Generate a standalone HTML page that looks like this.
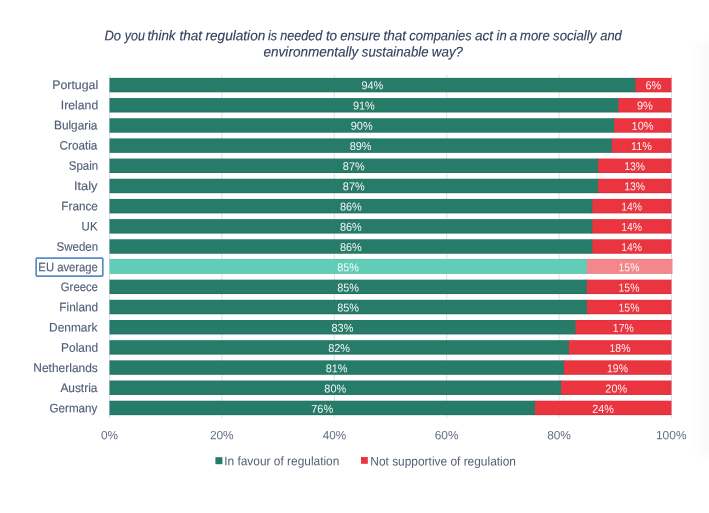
<!DOCTYPE html>
<html lang="en"><head><meta charset="utf-8"><title>Regulation survey chart</title>
<style>
html,body{margin:0;padding:0;background:#fff;}
body{width:709px;height:513px;overflow:hidden;}
svg{display:block;font-family:"Liberation Sans",sans-serif;text-rendering:geometricPrecision;}
.t{font-size:14px;font-style:italic;fill:#35425e;stroke:#35425e;stroke-width:0.15px;}
.c{font-size:12.2px;fill:#535e78;stroke:#535e78;stroke-width:0.15px;}
.a{font-size:12px;fill:#626d87;}
.l{font-size:12.5px;fill:#535e78;}
.v{font-size:11.4px;fill:#fff;fill-opacity:0.93;}
</style></head><body>
<svg width="709" height="513" viewBox="0 0 709 513">
<rect x="0" y="0" width="709" height="513" fill="#ffffff"/>
<defs><linearGradient id="sh" x1="0" y1="0" x2="1" y2="0"><stop offset="0" stop-color="#ffffff"/><stop offset="0.3" stop-color="#fdfdfd"/><stop offset="0.7" stop-color="#f9f9f9"/><stop offset="1" stop-color="#f8f8f8"/></linearGradient><filter id="bl" x="-20%" y="-5%" width="140%" height="110%"><feGaussianBlur stdDeviation="2 4"/></filter></defs>
<rect x="688" y="42" width="31" height="414" fill="url(#sh)" filter="url(#bl)"/>
<rect x="109" y="75" width="1" height="343" fill="#d9e0ee"/>
<rect x="221.4" y="75" width="1" height="343" fill="#d9e0ee"/>
<rect x="333.8" y="75" width="1" height="343" fill="#d9e0ee"/>
<rect x="446.2" y="75" width="1" height="343" fill="#d9e0ee"/>
<rect x="558.6" y="75" width="1" height="343" fill="#d9e0ee"/>
<rect x="671" y="75" width="1" height="343" fill="#d9e0ee"/>
<rect x="634.4" y="77.88" width="37.1" height="14.41" fill="#ea3440"/>
<rect x="109.5" y="77.88" width="525.9" height="14.41" fill="#277b69"/>
<rect x="109.5" y="91.49" width="562" height="0.8" fill="#000" fill-opacity="0.1"/>
<rect x="109.5" y="77.88" width="562" height="0.6" fill="#000" fill-opacity="0.05"/>
<rect x="617.4" y="98.06" width="54.1" height="14.41" fill="#ea3440"/>
<rect x="109.5" y="98.06" width="508.9" height="14.41" fill="#277b69"/>
<rect x="109.5" y="111.67" width="562" height="0.8" fill="#000" fill-opacity="0.1"/>
<rect x="109.5" y="98.06" width="562" height="0.6" fill="#000" fill-opacity="0.05"/>
<rect x="613.1" y="118.24" width="58.4" height="14.41" fill="#ea3440"/>
<rect x="109.5" y="118.24" width="504.6" height="14.41" fill="#277b69"/>
<rect x="109.5" y="131.85" width="562" height="0.8" fill="#000" fill-opacity="0.1"/>
<rect x="109.5" y="118.24" width="562" height="0.6" fill="#000" fill-opacity="0.05"/>
<rect x="610.8" y="138.41" width="60.7" height="14.41" fill="#ea3440"/>
<rect x="109.5" y="138.41" width="502.3" height="14.41" fill="#277b69"/>
<rect x="109.5" y="152.02" width="562" height="0.8" fill="#000" fill-opacity="0.1"/>
<rect x="109.5" y="138.41" width="562" height="0.6" fill="#000" fill-opacity="0.05"/>
<rect x="597.1" y="158.59" width="74.4" height="14.41" fill="#ea3440"/>
<rect x="109.5" y="158.59" width="488.6" height="14.41" fill="#277b69"/>
<rect x="109.5" y="172.2" width="562" height="0.8" fill="#000" fill-opacity="0.1"/>
<rect x="109.5" y="158.59" width="562" height="0.6" fill="#000" fill-opacity="0.05"/>
<rect x="597.1" y="178.76" width="74.4" height="14.41" fill="#ea3440"/>
<rect x="109.5" y="178.76" width="488.6" height="14.41" fill="#277b69"/>
<rect x="109.5" y="192.38" width="562" height="0.8" fill="#000" fill-opacity="0.1"/>
<rect x="109.5" y="178.76" width="562" height="0.6" fill="#000" fill-opacity="0.05"/>
<rect x="591.3" y="198.94" width="80.2" height="14.41" fill="#ea3440"/>
<rect x="109.5" y="198.94" width="482.8" height="14.41" fill="#277b69"/>
<rect x="109.5" y="212.55" width="562" height="0.8" fill="#000" fill-opacity="0.1"/>
<rect x="109.5" y="198.94" width="562" height="0.6" fill="#000" fill-opacity="0.05"/>
<rect x="591.3" y="219.12" width="80.2" height="14.41" fill="#ea3440"/>
<rect x="109.5" y="219.12" width="482.8" height="14.41" fill="#277b69"/>
<rect x="109.5" y="232.73" width="562" height="0.8" fill="#000" fill-opacity="0.1"/>
<rect x="109.5" y="219.12" width="562" height="0.6" fill="#000" fill-opacity="0.05"/>
<rect x="591.3" y="239.29" width="80.2" height="14.41" fill="#ea3440"/>
<rect x="109.5" y="239.29" width="482.8" height="14.41" fill="#277b69"/>
<rect x="109.5" y="252.91" width="562" height="0.8" fill="#000" fill-opacity="0.1"/>
<rect x="109.5" y="239.29" width="562" height="0.6" fill="#000" fill-opacity="0.05"/>
<rect x="585.9" y="258.97" width="86.6" height="14.81" fill="#f4878b"/>
<rect x="109.5" y="258.97" width="477.4" height="14.81" fill="#62cdb6"/>
<rect x="109.5" y="272.98" width="563" height="0.8" fill="#000" fill-opacity="0.1"/>
<rect x="109.5" y="258.97" width="563" height="0.6" fill="#000" fill-opacity="0.05"/>
<rect x="585.9" y="279.65" width="85.6" height="14.41" fill="#ea3440"/>
<rect x="109.5" y="279.65" width="477.4" height="14.41" fill="#277b69"/>
<rect x="109.5" y="293.26" width="562" height="0.8" fill="#000" fill-opacity="0.1"/>
<rect x="109.5" y="279.65" width="562" height="0.6" fill="#000" fill-opacity="0.05"/>
<rect x="585.9" y="299.82" width="85.6" height="14.41" fill="#ea3440"/>
<rect x="109.5" y="299.82" width="477.4" height="14.41" fill="#277b69"/>
<rect x="109.5" y="313.44" width="562" height="0.8" fill="#000" fill-opacity="0.1"/>
<rect x="109.5" y="299.82" width="562" height="0.6" fill="#000" fill-opacity="0.05"/>
<rect x="574.5" y="320" width="97" height="14.41" fill="#ea3440"/>
<rect x="109.5" y="320" width="466" height="14.41" fill="#277b69"/>
<rect x="109.5" y="333.61" width="562" height="0.8" fill="#000" fill-opacity="0.1"/>
<rect x="109.5" y="320" width="562" height="0.6" fill="#000" fill-opacity="0.05"/>
<rect x="567.9" y="340.18" width="103.6" height="14.41" fill="#ea3440"/>
<rect x="109.5" y="340.18" width="459.4" height="14.41" fill="#277b69"/>
<rect x="109.5" y="353.79" width="562" height="0.8" fill="#000" fill-opacity="0.1"/>
<rect x="109.5" y="340.18" width="562" height="0.6" fill="#000" fill-opacity="0.05"/>
<rect x="562.9" y="360.35" width="108.6" height="14.41" fill="#ea3440"/>
<rect x="109.5" y="360.35" width="454.4" height="14.41" fill="#277b69"/>
<rect x="109.5" y="373.96" width="562" height="0.8" fill="#000" fill-opacity="0.1"/>
<rect x="109.5" y="360.35" width="562" height="0.6" fill="#000" fill-opacity="0.05"/>
<rect x="560.1" y="380.53" width="111.4" height="14.41" fill="#ea3440"/>
<rect x="109.5" y="380.53" width="451.6" height="14.41" fill="#277b69"/>
<rect x="109.5" y="394.14" width="562" height="0.8" fill="#000" fill-opacity="0.1"/>
<rect x="109.5" y="380.53" width="562" height="0.6" fill="#000" fill-opacity="0.05"/>
<rect x="534" y="400.71" width="137.5" height="14.41" fill="#ea3440"/>
<rect x="109.5" y="400.71" width="425.5" height="14.41" fill="#277b69"/>
<rect x="109.5" y="414.32" width="562" height="0.8" fill="#000" fill-opacity="0.1"/>
<rect x="109.5" y="400.71" width="562" height="0.6" fill="#000" fill-opacity="0.05"/>
<rect x="36.15" y="258.05" width="66.65" height="18.1" rx="0.8" fill="none" stroke="#5a8dc6" stroke-width="1.7"/>
<rect x="215.4" y="457.2" width="7" height="7" fill="#277b69"/>
<rect x="361" y="457" width="6.8" height="6.8" fill="#ea3440"/>
<text class="t" x="104.4" y="40.2" textLength="16.61" lengthAdjust="spacingAndGlyphs" transform="rotate(0.04 104.4 40.2)">Do</text>
<text class="t" x="124.71" y="40.2" textLength="20.14" lengthAdjust="spacingAndGlyphs" transform="rotate(0.04 124.71 40.2)">you</text>
<text class="t" x="147.4" y="40.2" textLength="28.15" lengthAdjust="spacingAndGlyphs" transform="rotate(0.04 147.4 40.2)">think</text>
<text class="t" x="179.48" y="40.2" textLength="22.65" lengthAdjust="spacingAndGlyphs" transform="rotate(0.04 179.48 40.2)">that</text>
<text class="t" x="205.47" y="40.2" textLength="59.84" lengthAdjust="spacingAndGlyphs" transform="rotate(0.04 205.47 40.2)">regulation</text>
<text class="t" x="267.9" y="40.2" textLength="9.16" lengthAdjust="spacingAndGlyphs" transform="rotate(0.04 267.9 40.2)">is</text>
<text class="t" x="280.19" y="40.2" textLength="41.98" lengthAdjust="spacingAndGlyphs" transform="rotate(0.04 280.19 40.2)">needed</text>
<text class="t" x="325.89" y="40.2" textLength="11.24" lengthAdjust="spacingAndGlyphs" transform="rotate(0.04 325.89 40.2)">to</text>
<text class="t" x="340.16" y="40.2" textLength="40.23" lengthAdjust="spacingAndGlyphs" transform="rotate(0.04 340.16 40.2)">ensure</text>
<text class="t" x="383.48" y="40.2" textLength="22.65" lengthAdjust="spacingAndGlyphs" transform="rotate(0.04 383.48 40.2)">that</text>
<text class="t" x="409.28" y="40.2" textLength="62.49" lengthAdjust="spacingAndGlyphs" transform="rotate(0.04 409.28 40.2)">companies</text>
<text class="t" x="474.99" y="40.2" textLength="18.13" lengthAdjust="spacingAndGlyphs" transform="rotate(0.04 474.99 40.2)">act</text>
<text class="t" x="496.49" y="40.2" textLength="10.21" lengthAdjust="spacingAndGlyphs" transform="rotate(0.04 496.49 40.2)">in</text>
<text class="t" x="509.59" y="40.2" textLength="7.79" lengthAdjust="spacingAndGlyphs" transform="rotate(0.04 509.59 40.2)">a</text>
<text class="t" x="520.08" y="40.2" textLength="29.6" lengthAdjust="spacingAndGlyphs" transform="rotate(0.04 520.08 40.2)">more</text>
<text class="t" x="553.07" y="40.2" textLength="43.27" lengthAdjust="spacingAndGlyphs" transform="rotate(0.04 553.07 40.2)">socially</text>
<text class="t" x="600.21" y="40.2" textLength="21.55" lengthAdjust="spacingAndGlyphs" transform="rotate(0.04 600.21 40.2)">and</text>
<text class="t" x="263.54" y="56.4" textLength="94.88" lengthAdjust="spacingAndGlyphs" transform="rotate(0.04 263.54 56.4)">environmentally</text>
<text class="t" x="361.87" y="56.4" textLength="66.62" lengthAdjust="spacingAndGlyphs" transform="rotate(0.04 361.87 56.4)">sustainable</text>
<text class="t" x="431.83" y="56.4" textLength="31.2" lengthAdjust="spacingAndGlyphs" transform="rotate(0.04 431.83 56.4)">way?</text>
<text class="c" x="52.19" y="88.95" textLength="46.04" lengthAdjust="spacingAndGlyphs" transform="rotate(0.04 52.19 88.95)">Portugal</text>
<text class="v" x="361.44" y="89.3" textLength="21.9" lengthAdjust="spacingAndGlyphs" transform="rotate(0.04 361.44 89.3)">94%</text>
<text class="v" x="645.39" y="89.3" textLength="15.95" lengthAdjust="spacingAndGlyphs" transform="rotate(0.04 645.39 89.3)">6%</text>
<text class="c" x="60.87" y="109.16" textLength="37.31" lengthAdjust="spacingAndGlyphs" transform="rotate(0.04 60.87 109.16)">Ireland</text>
<text class="v" x="352.94" y="109.51" textLength="21.9" lengthAdjust="spacingAndGlyphs" transform="rotate(0.04 352.94 109.51)">91%</text>
<text class="v" x="636.93" y="109.51" textLength="15.91" lengthAdjust="spacingAndGlyphs" transform="rotate(0.04 636.93 109.51)">9%</text>
<text class="c" x="54.03" y="129.37" textLength="43.37" lengthAdjust="spacingAndGlyphs" transform="rotate(0.04 54.03 129.37)">Bulgaria</text>
<text class="v" x="350.79" y="129.72" textLength="21.9" lengthAdjust="spacingAndGlyphs" transform="rotate(0.04 350.79 129.72)">90%</text>
<text class="v" x="631.56" y="129.72" textLength="22.03" lengthAdjust="spacingAndGlyphs" transform="rotate(0.04 631.56 129.72)">10%</text>
<text class="c" x="59.6" y="149.58" textLength="37.8" lengthAdjust="spacingAndGlyphs" transform="rotate(0.04 59.6 149.58)">Croatia</text>
<text class="v" x="349.68" y="149.93" textLength="21.86" lengthAdjust="spacingAndGlyphs" transform="rotate(0.04 349.68 149.93)">89%</text>
<text class="v" x="630.97" y="149.93" textLength="20.91" lengthAdjust="spacingAndGlyphs" transform="rotate(0.04 630.97 149.93)">11%</text>
<text class="c" x="68.78" y="169.79" textLength="29.37" lengthAdjust="spacingAndGlyphs" transform="rotate(0.04 68.78 169.79)">Spain</text>
<text class="v" x="342.83" y="170.14" textLength="21.86" lengthAdjust="spacingAndGlyphs" transform="rotate(0.04 342.83 170.14)">87%</text>
<text class="v" x="624.16" y="170.14" textLength="20.87" lengthAdjust="spacingAndGlyphs" transform="rotate(0.04 624.16 170.14)">13%</text>
<text class="c" x="73.92" y="190" textLength="23.51" lengthAdjust="spacingAndGlyphs" transform="rotate(0.04 73.92 190)">Italy</text>
<text class="v" x="342.83" y="190.35" textLength="21.86" lengthAdjust="spacingAndGlyphs" transform="rotate(0.04 342.83 190.35)">87%</text>
<text class="v" x="624.16" y="190.35" textLength="20.87" lengthAdjust="spacingAndGlyphs" transform="rotate(0.04 624.16 190.35)">13%</text>
<text class="c" x="61.33" y="210.21" textLength="36.59" lengthAdjust="spacingAndGlyphs" transform="rotate(0.04 61.33 210.21)">France</text>
<text class="v" x="339.93" y="210.56" textLength="21.86" lengthAdjust="spacingAndGlyphs" transform="rotate(0.04 339.93 210.56)">86%</text>
<text class="v" x="621.26" y="210.56" textLength="20.87" lengthAdjust="spacingAndGlyphs" transform="rotate(0.04 621.26 210.56)">14%</text>
<text class="c" x="81.62" y="230.42" textLength="15.91" lengthAdjust="spacingAndGlyphs" transform="rotate(0.04 81.62 230.42)">UK</text>
<text class="v" x="339.93" y="230.77" textLength="21.86" lengthAdjust="spacingAndGlyphs" transform="rotate(0.04 339.93 230.77)">86%</text>
<text class="v" x="621.26" y="230.77" textLength="20.87" lengthAdjust="spacingAndGlyphs" transform="rotate(0.04 621.26 230.77)">14%</text>
<text class="c" x="56.58" y="250.63" textLength="41.57" lengthAdjust="spacingAndGlyphs" transform="rotate(0.04 56.58 250.63)">Sweden</text>
<text class="v" x="339.93" y="250.98" textLength="21.86" lengthAdjust="spacingAndGlyphs" transform="rotate(0.04 339.93 250.98)">86%</text>
<text class="v" x="621.26" y="250.98" textLength="20.87" lengthAdjust="spacingAndGlyphs" transform="rotate(0.04 621.26 250.98)">14%</text>
<text class="c" x="38.37" y="271.24" textLength="59.53" lengthAdjust="spacingAndGlyphs" transform="rotate(0.04 38.37 271.24)">EU average</text>
<text class="v" x="337.23" y="271.19" textLength="21.86" lengthAdjust="spacingAndGlyphs" transform="rotate(0.04 337.23 271.19)">85%</text>
<text class="v" x="618.56" y="271.19" textLength="20.87" lengthAdjust="spacingAndGlyphs" transform="rotate(0.04 618.56 271.19)">15%</text>
<text class="c" x="60.83" y="291.05" textLength="37.07" lengthAdjust="spacingAndGlyphs" transform="rotate(0.04 60.83 291.05)">Greece</text>
<text class="v" x="337.23" y="291.4" textLength="21.86" lengthAdjust="spacingAndGlyphs" transform="rotate(0.04 337.23 291.4)">85%</text>
<text class="v" x="618.56" y="291.4" textLength="20.87" lengthAdjust="spacingAndGlyphs" transform="rotate(0.04 618.56 291.4)">15%</text>
<text class="c" x="59.33" y="311.26" textLength="38.84" lengthAdjust="spacingAndGlyphs" transform="rotate(0.04 59.33 311.26)">Finland</text>
<text class="v" x="337.23" y="311.61" textLength="21.86" lengthAdjust="spacingAndGlyphs" transform="rotate(0.04 337.23 311.61)">85%</text>
<text class="v" x="618.56" y="311.61" textLength="20.87" lengthAdjust="spacingAndGlyphs" transform="rotate(0.04 618.56 311.61)">15%</text>
<text class="c" x="49.12" y="331.47" textLength="48.26" lengthAdjust="spacingAndGlyphs" transform="rotate(0.04 49.12 331.47)">Denmark</text>
<text class="v" x="331.53" y="331.82" textLength="21.86" lengthAdjust="spacingAndGlyphs" transform="rotate(0.04 331.53 331.82)">83%</text>
<text class="v" x="612.86" y="331.82" textLength="20.87" lengthAdjust="spacingAndGlyphs" transform="rotate(0.04 612.86 331.82)">17%</text>
<text class="c" x="61.12" y="351.68" textLength="37.04" lengthAdjust="spacingAndGlyphs" transform="rotate(0.04 61.12 351.68)">Poland</text>
<text class="v" x="328.23" y="352.03" textLength="21.86" lengthAdjust="spacingAndGlyphs" transform="rotate(0.04 328.23 352.03)">82%</text>
<text class="v" x="609.56" y="352.03" textLength="20.87" lengthAdjust="spacingAndGlyphs" transform="rotate(0.04 609.56 352.03)">18%</text>
<text class="c" x="33.32" y="371.89" textLength="64.52" lengthAdjust="spacingAndGlyphs" transform="rotate(0.04 33.32 371.89)">Netherlands</text>
<text class="v" x="325.73" y="372.24" textLength="21.86" lengthAdjust="spacingAndGlyphs" transform="rotate(0.04 325.73 372.24)">81%</text>
<text class="v" x="607.06" y="372.24" textLength="20.87" lengthAdjust="spacingAndGlyphs" transform="rotate(0.04 607.06 372.24)">19%</text>
<text class="c" x="60.38" y="392.1" textLength="37.02" lengthAdjust="spacingAndGlyphs" transform="rotate(0.04 60.38 392.1)">Austria</text>
<text class="v" x="324.33" y="392.45" textLength="21.86" lengthAdjust="spacingAndGlyphs" transform="rotate(0.04 324.33 392.45)">80%</text>
<text class="v" x="605.35" y="392.45" textLength="21.73" lengthAdjust="spacingAndGlyphs" transform="rotate(0.04 605.35 392.45)">20%</text>
<text class="c" x="49.51" y="412.31" textLength="47.91" lengthAdjust="spacingAndGlyphs" transform="rotate(0.04 49.51 412.31)">Germany</text>
<text class="v" x="311.19" y="412.66" textLength="21.95" lengthAdjust="spacingAndGlyphs" transform="rotate(0.04 311.19 412.66)">76%</text>
<text class="v" x="592.3" y="412.66" textLength="21.73" lengthAdjust="spacingAndGlyphs" transform="rotate(0.04 592.3 412.66)">24%</text>
<text class="a" x="100.94" y="439.3" textLength="17.08" lengthAdjust="spacingAndGlyphs" transform="rotate(0.04 100.94 439.3)">0%</text>
<text class="a" x="209.9" y="439.3" textLength="23.82" lengthAdjust="spacingAndGlyphs" transform="rotate(0.04 209.9 439.3)">20%</text>
<text class="a" x="322.63" y="439.3" textLength="23.49" lengthAdjust="spacingAndGlyphs" transform="rotate(0.04 322.63 439.3)">40%</text>
<text class="a" x="434.7" y="439.3" textLength="23.83" lengthAdjust="spacingAndGlyphs" transform="rotate(0.04 434.7 439.3)">60%</text>
<text class="a" x="547.18" y="439.3" textLength="23.74" lengthAdjust="spacingAndGlyphs" transform="rotate(0.04 547.18 439.3)">80%</text>
<text class="a" x="655.94" y="439.3" textLength="30.64" lengthAdjust="spacingAndGlyphs" transform="rotate(0.04 655.94 439.3)">100%</text>
<text class="l" x="224.2" y="465.3" textLength="115.17" lengthAdjust="spacingAndGlyphs" transform="rotate(0.04 224.2 465.3)">In favour of regulation</text>
<text class="l" x="370.32" y="465.4" textLength="145.65" lengthAdjust="spacingAndGlyphs" transform="rotate(0.04 370.32 465.4)">Not supportive of regulation</text>
</svg></body></html>
